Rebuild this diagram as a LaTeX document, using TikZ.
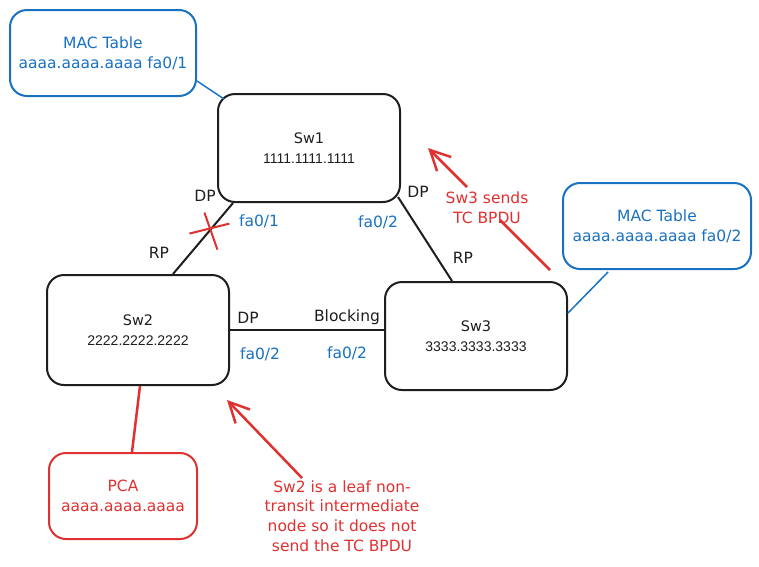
\documentclass[tikz,border=0pt]{standalone}
\usepackage{fontspec}
\setmainfont{DejaVu Sans}
\newfontfamily\numfamily{Liberation Sans}
\usetikzlibrary{arrows.meta,calc}
\definecolor{exblue}{HTML}{1971C2}
\definecolor{exred}{HTML}{E03131}
\definecolor{exink}{HTML}{1E1E1E}
\newcommand\lblfont{\fontsize{15.5}{19.7}\selectfont}
\newcommand\swfont{\fontsize{14.5}{20.5}\selectfont}
\newcommand\numfont{\numfamily\fontsize{14}{20.5}\selectfont}
\begin{document}
\begin{tikzpicture}[x=1pt,y=-1pt,
  swbox/.style={draw=exink, line width=2pt, rounded corners=17pt, minimum width=182pt, minimum height=108pt, align=center, text=exink, font=\swfont, inner sep=0pt},
  macbox/.style={draw=exblue, line width=2pt, rounded corners=17pt, align=center, text=exblue, font=\lblfont, inner sep=0pt},
  pcbox/.style={draw=exred, line width=2pt, rounded corners=17pt, align=center, text=exred, font=\lblfont, inner sep=0pt},
  link/.style={draw=exink, line width=2pt},
  bluelink/.style={draw=exblue, line width=1.5pt},
  redlink/.style={draw=exred, line width=2.5pt},
  redarrow/.style={draw=exred, line width=2.5pt, -{Straight Barb[length=20pt,width=20pt,line width=2.5pt]}},
  xmark/.style={draw=exred, line width=2pt},
  blk/.style={text=exink, font=\lblfont, inner sep=0pt},
  blu/.style={text=exblue, font=\lblfont, inner sep=0pt},
  redlbl/.style={text=exred, font=\lblfont, align=center, inner sep=0pt}]
\useasboundingbox[fill=white] (0,0) rectangle (759,566);

% nodes
\node[swbox] (sw1) at (309,148) {Sw1\\{\numfont 1111.1111.1111}};
\node[swbox, minimum height=110pt] (sw2) at (138,330) {Sw2\\{\numfont 2222.2222.2222}};
\node[swbox] (sw3) at (476,336) {Sw3\\{\numfont 3333.3333.3333}};
\node[macbox, minimum width=186pt, minimum height=86pt] (mac1) at (103,53) {MAC Table\\aaaa.aaaa.aaaa fa0/1};
\node[macbox, minimum width=188pt, minimum height=86pt] (mac2) at (657,226) {MAC Table\\aaaa.aaaa.aaaa fa0/2};
\node[pcbox, minimum width=148pt, minimum height=86pt] (pca) at (123,496) {PCA\\aaaa.aaaa.aaaa};

% links
\draw[bluelink] ([yshift=-28pt]mac1.east) -- ([xshift=7pt,yshift=-6pt]sw1.north west);
\draw[link] ([xshift=-76pt]sw1.south) -- coordinate[pos=0.36] (cut) ([xshift=35pt]sw2.north);
\draw[link] ([xshift=-3pt,yshift=6pt]sw1.south east) -- ([xshift=-24pt]sw3.north);
\draw[link] (sw2.east) -- (sw2.east -| sw3.west);
\draw[bluelink] ([yshift=23pt]sw3.east) -- ([xshift=-49pt,yshift=-2pt]mac2.south);
\draw[redlink] ([xshift=2pt]sw2.south) -- ([xshift=9pt]pca.north);

% red cross on the Sw1-Sw2 link
\draw[xmark] ($(cut)+(-22,5)$) -- ($(cut)+(18,-5)$);
\draw[xmark] ($(cut)+(-7,-16)$) -- ($(cut)+(6,21)$);

% port labels
\node[blk] (dp1) at (205,196) {DP};
\node[blu] (f01) at (259,221) {fa0/1};
\node[blk] (rp2) at (159,253) {RP};
\node[blu] (f02a) at (378,222) {fa0/2};
\node[blk] (dp1b) at (418,192) {DP};
\node[blk] (rp3) at (463,258) {RP};
\node[blk] (dp2) at (248,318) {DP};
\node[blk] (blkg) at (347,317) {Blocking};
\node[blu] (f02b) at (260,354) {fa0/2};
\node[blu] (f02c) at (347,353) {fa0/2};

% annotation arrows
\coordinate (a1s) at (550,270);
\coordinate (a1t) at (428,148);
\draw[redlink] (a1s) -- ($(a1s)!0.41!(a1t)$);
\draw[redarrow] ($(a1s)!0.68!(a1t)$) -- (a1t);
\node[redlbl] (a1l) at (487,208) {Sw3 sends\\TC BPDU};

\coordinate (a2s) at (302,478);
\coordinate (a2t) at (227,400);
\draw[redarrow] (a2s) -- (a2t);
\node[redlbl] (a2l) at (342,516) {Sw2 is a leaf non-\\transit intermediate\\node so it does not\\send the TC BPDU};
\end{tikzpicture}
\end{document}
